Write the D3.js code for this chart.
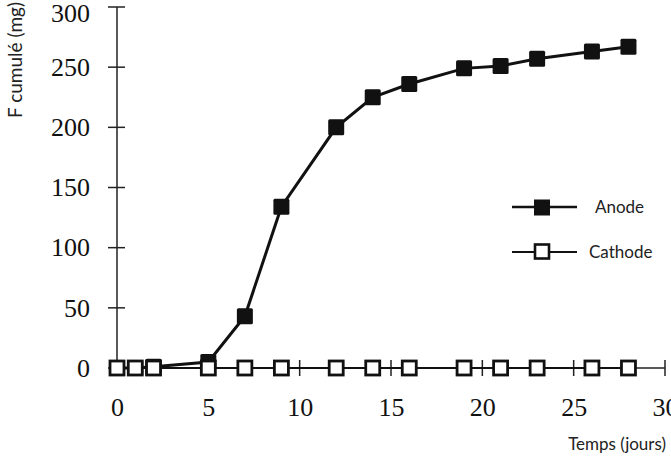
<!DOCTYPE html>
<html><head><meta charset="utf-8">
<script src="https://cdn.jsdelivr.net/npm/d3@7"></script>
<style>body{margin:0;background:#fff}</style>
</head><body>
<svg id="c" width="671" height="456"></svg>
<script>
const days = [0, 1, 2, 5, 7, 9, 12, 14, 16, 19, 21, 23, 26, 28];
const anode = [0, 0, 1, 5, 43, 134, 200, 225, 236, 249, 251, 257, 263, 267];
const cathode = [0, 0, 0, 0, 0, 0, 0, 0, 0, 0, 0, 0, 0, 0];
const xTicks = [0, 5, 10, 15, 20, 25, 30];
const yTicks = [0, 50, 100, 150, 200, 250, 300];
const seriesNames = ["Anode", "Cathode"];

const svg = d3.select("#c");
const x = d3.scaleLinear().domain([0, 30]).range([117, 665]);
const y = d3.scaleLinear().domain([0, 300]).range([368, 7]);
const serif = "Liberation Serif, Times New Roman, serif";
const sans = "Lato, Open Sans, sans-serif";

// axes
const yAxis = d3.axisLeft(y).tickValues(yTicks).tickSize(0).tickPadding(27);
const gy = svg.append("g").attr("transform", "translate(117,0)").call(yAxis);
gy.select(".domain").remove();
gy.selectAll("text").attr("font-family", serif)
  .attr("font-size", 26).attr("fill", "#111")
  .attr("dy", d => d === 300 ? "0.55em" : "0.32em");
svg.append("line").attr("x1", x(0)).attr("x2", x(0)).attr("y1", y(300)).attr("y2", y(0))
  .attr("stroke", "#222").attr("stroke-width", 1.5);
svg.selectAll(".yt").data(yTicks).join("line")
  .attr("x1", x(0) - 9).attr("x2", x(0) + 8)
  .attr("y1", d => y(d)).attr("y2", d => y(d))
  .attr("stroke", "#222").attr("stroke-width", 1.5);

const xAxis = d3.axisBottom(x).tickValues(xTicks).tickSize(0).tickPadding(30);
const gx = svg.append("g").attr("transform", "translate(0,368)").call(xAxis);
gx.select(".domain").remove();
gx.selectAll("text").attr("font-family", serif)
  .attr("font-size", 26).attr("fill", "#111");
svg.append("line").attr("x1", x(0)).attr("x2", x(30)).attr("y1", y(0)).attr("y2", y(0))
  .attr("stroke", "#222").attr("stroke-width", 1.5);
svg.selectAll(".xt").data(xTicks).join("line")
  .attr("x1", d => x(d)).attr("x2", d => x(d))
  .attr("y1", y(0) - 8).attr("y2", y(0) + 8)
  .attr("stroke", "#222").attr("stroke-width", 1.5);

// axis titles
svg.append("text").attr("transform", "translate(22,60) rotate(-90)")
  .attr("text-anchor", "middle").attr("font-family", sans)
  .attr("font-size", 19).attr("fill", "#222").text("F cumulé (mg)");
svg.append("text").attr("x", 666).attr("y", 450)
  .attr("text-anchor", "end").attr("font-family", sans)
  .attr("font-size", 17).attr("fill", "#222").text("Temps (jours)");

const line = d3.line().x(d => x(d[0])).y(d => y(d[1]));
const cData = days.map((d, i) => [d, cathode[i]]);
const aData = days.map((d, i) => [d, anode[i]]);

// anode
svg.append("path").datum(aData).attr("d", line).attr("fill", "none")
  .attr("stroke", "#111").attr("stroke-width", 3);
svg.selectAll(".am").data(aData).join("rect")
  .attr("x", d => x(d[0]) - 8).attr("y", d => y(d[1]) - 8)
  .attr("width", 16).attr("height", 16).attr("rx", 1.5)
  .attr("fill", "#111");

// cathode
svg.append("path").datum(cData).attr("d", line).attr("fill", "none")
  .attr("stroke", "#111").attr("stroke-width", 2.2);
svg.selectAll(".cm").data(cData).join("rect")
  .attr("x", d => x(d[0]) - 7).attr("y", d => y(d[1]) - 7)
  .attr("width", 14).attr("height", 14)
  .attr("fill", "#fff").attr("stroke", "#111").attr("stroke-width", 2.8);

// legend
const leg = [{name: seriesNames[0], yy: 207, filled: true}, {name: seriesNames[1], yy: 252, filled: false}];
leg.forEach(l => {
  svg.append("line").attr("x1", 512).attr("x2", 577).attr("y1", l.yy).attr("y2", l.yy)
    .attr("stroke", "#111").attr("stroke-width", l.filled ? 2.6 : 2.2);
  svg.append("rect").attr("x", l.filled ? 534 : 535).attr("y", l.yy - 7.5).attr("width", l.filled ? 16 : 14).attr("height", l.filled ? 16 : 14)
    .attr("fill", l.filled ? "#111" : "#fff").attr("stroke", "#111").attr("stroke-width", l.filled ? 0 : 2.6);
  svg.append("text").attr("x", l.filled ? 595 : 589).attr("y", l.yy + 6)
    .attr("font-family", sans).attr("font-size", 17)
    .attr("fill", "#222").text(l.name);
});
</script>
</body></html>
